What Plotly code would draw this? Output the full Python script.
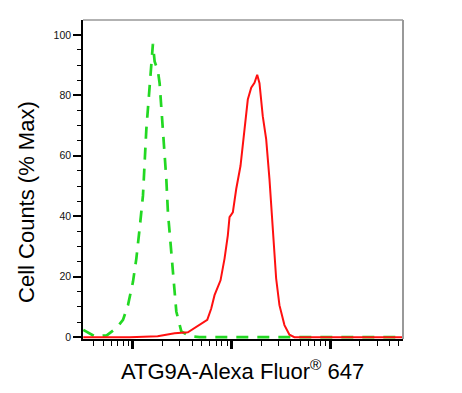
import plotly.graph_objects as go

# Isotype control (green dashed) - intensity vs % max
green_x = [31.3, 40.9, 54.2, 67.9, 79.2, 89.0, 100, 108.2, 116.9, 126.3, 131.4, 136.7,
           144.2, 151.1, 159.4, 165.9, 179.2, 186.4, 196.7, 206.2, 218, 226.3, 241,
           254.3, 275.3, 309.3, 375.4, 474, 1000, 10000, 55000]
green_y = [2.4, 0.3, 0.6, 3.0, 5.7, 10.6, 18.3, 26, 36, 46.8, 57.8, 68.8,
           78.6, 88.5, 97, 91.2, 88, 84, 74.2, 63.3, 52.3, 41.3, 30.4,
           19.4, 8.5, 1.9, 0.3, 0, 0, 0, 0]

# ATG9A stained sample (red solid)
red_x = [31.3, 92.6, 178, 264.5, 360.8, 421.8, 493, 567.3, 622.7, 672.6, 773.7, 849.6,
         917.4, 954.3, 1031, 1116, 1234, 1332, 1463, 1584, 1710, 1822, 1922, 2075,
         2247, 2427, 2620, 2837, 3064, 3443, 3869, 4348, 55000]
red_y = [0, 0, 0.3, 1.3, 1.6, 3.0, 4.6, 5.7, 9.5, 13.9, 18.8, 26,
         33.7, 39.7, 41.3, 49, 56.7, 66.5, 78.6, 82.5, 84.1, 86.8, 84, 73.1,
         65.5, 52.3, 35.9, 19.4, 10.6, 4.0, 0.8, 0, 0]

y_ticks = [0, 20, 40, 60, 80, 100]
x_major = [100, 1000, 10000]
x_minor = [m * 10 ** d for d in range(1, 5) for m in range(2, 10)]

FONT = "Arial, Liberation Sans, sans-serif"

fig = go.Figure()
fig.add_trace(go.Scatter(x=green_x, y=green_y, mode="lines",
                         line=dict(color="#22d822", width=2.7, dash="12px,9px"),
                         showlegend=False))
fig.add_trace(go.Scatter(x=red_x, y=red_y, mode="lines",
                         line=dict(color="#ff1010", width=2),
                         showlegend=False))

fig.update_layout(
    width=462, height=393,
    margin=dict(l=83, r=59, t=20, b=54),
    paper_bgcolor="white", plot_bgcolor="white",
    font=dict(family=FONT, color="#111"),
    xaxis=dict(type="log", range=[1.493, 4.74], showgrid=False, zeroline=False,
               showline=True, linecolor="black", linewidth=1.5,
               ticks="outside", tickmode="array", tickvals=x_major,
               ticklen=8, tickwidth=2.5, tickcolor="black", showticklabels=False,
               minor=dict(tickmode="array", tickvals=x_minor, ticks="outside",
                          ticklen=5, tickwidth=1.2, tickcolor="black", showgrid=False)),
    yaxis=dict(range=[-0.6, 104.9], showgrid=False, zeroline=False,
               showline=True, linecolor="black", linewidth=1.5,
               ticks="outside", tickmode="array", tickvals=y_ticks,
               ticklen=8, tickwidth=2, tickcolor="black",
               tickfont=dict(size=10.5, color="#111", family=FONT),
               minor=dict(dtick=5, ticks="outside", ticklen=4, tickwidth=1,
                          tickcolor="black", showgrid=False)),
    shapes=[
        dict(type="line", xref="paper", yref="paper", x0=0, x1=1, y0=1, y1=1,
             line=dict(color="#999999", width=1.5)),
        dict(type="line", xref="paper", yref="paper", x0=1, x1=1, y0=0, y1=1,
             line=dict(color="#999999", width=2)),
    ],
    annotations=[
        dict(text="Cell Counts (% Max)", xref="paper", yref="paper",
             x=-0.175, y=0.4295, xanchor="center", yanchor="middle",
             textangle=-90, showarrow=False,
             font=dict(size=22, color="black", family=FONT)),
        dict(text="ATG9A-Alexa Fluor<sup>®</sup> 647", xref="paper", yref="paper",
             x=0.497, y=-0.097, xanchor="center", yanchor="middle",
             showarrow=False, font=dict(size=22, color="black", family=FONT)),
    ],
)

fig.write_html("out.html", config={"displayModeBar": False},
               post_script="document.body.style.margin='0';document.body.style.overflow='hidden';")
